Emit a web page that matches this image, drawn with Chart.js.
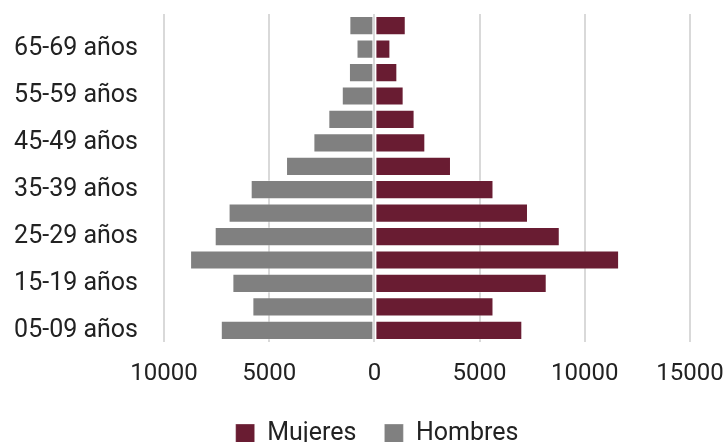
<!DOCTYPE html>
<html>
<head>
<meta charset="utf-8">
<script src="https://cdn.jsdelivr.net/npm/chart.js@4"></script>
<style>
  html, body { margin: 0; padding: 0; background: #fff; }
  #wrap { width: 725px; height: 442px; }
</style>
</head>
<body>
<div id="wrap"><canvas id="pyramid"></canvas></div>
<script>
// age groups, top to bottom as drawn
const ageGroups = ['70-74 años', '65-69 años', '60-64 años', '55-59 años', '50-54 años', '45-49 años',
    '40-44 años', '35-39 años', '30-34 años', '25-29 años', '20-24 años', '15-19 años',
    '10-14 años', '05-09 años'];
const mujeres = [1490, 760, 1090, 1390, 1910, 2420, 3640, 5660, 7300, 8810, 11630, 8190, 5660, 7030];
const hombres = [1190, 850, 1210, 1550, 2190, 2900, 4200, 5880, 6930, 7590, 8760, 6750, 5800, 7300];
const xTicks = [-10000, -5000, 0, 5000, 10000, 15000];

const tickFont = { family: 'Roboto, "Liberation Sans", sans-serif', size: 24 };
const labelFont = { family: 'Roboto, "Liberation Sans", sans-serif', size: 25 };

// drop the extra label padding chart.js adds around the plot
function noPadding(scale) {
    scale.paddingTop = 0;
    scale.paddingBottom = 0;
    scale.paddingLeft = 0;
    scale.paddingRight = 0;
}

// nudge the legend to the right, like the original
const legendShift = {
    id: 'legendShift',
    afterLayout(chart) {
        chart.legend.left += 32;
        chart.legend.right += 32;
    }
};

const ctx = document.getElementById('pyramid').getContext('2d');
const chart = new Chart(ctx, {
    type: 'bar',
    data: {
        labels: ageGroups,
        datasets: [{
            label: 'Mujeres',
            data: mujeres,
            backgroundColor: '#691c32',
            borderColor: 'rgba(255,255,255,0.3)',
            borderWidth: 1,
            borderSkipped: false,
            barPercentage: 0.82,
            categoryPercentage: 1
        }, {
            label: 'Hombres',
            data: hombres.map(v => -v),
            backgroundColor: '#808080',
            borderColor: 'rgba(255,255,255,0.3)',
            borderWidth: 1,
            borderSkipped: false,
            barPercentage: 0.82,
            categoryPercentage: 1
        }]
    },
    options: {
        indexAxis: 'y',
        responsive: true,
        maintainAspectRatio: false,
        animation: false,
        layout: { padding: { top: 14, right: 35, left: 0, bottom: -14 } },
        scales: {
            x: {
                stacked: true,
                min: xTicks[0],
                max: xTicks[xTicks.length - 1],
                afterBuildTicks: scale => { scale.ticks = xTicks.map(v => ({ value: v })); },
                afterFit: scale => { noPadding(scale); scale.height = 51; },
                border: { display: false },
                grid: { color: '#d9d9d9', lineWidth: 2, drawTicks: false },
                ticks: {
                    color: '#222',
                    font: tickFont,
                    padding: 18,
                    callback: v => Math.abs(v)
                }
            },
            y: {
                stacked: true,
                afterFit: scale => { noPadding(scale); scale.width = 164; },
                border: { display: false },
                grid: { display: false, drawTicks: false },
                ticks: {
                    color: '#222',
                    font: labelFont,
                    padding: 26,
                    autoSkip: false,
                    callback: function (v, i) { return i % 2 === 1 ? this.getLabelForValue(v) : ''; }
                }
            }
        },
        plugins: {
            legend: {
                position: 'bottom',
                labels: {
                    color: '#222',
                    font: labelFont,
                    boxWidth: 19,
                    boxHeight: 19,
                    padding: 28
                }
            },
            tooltip: { enabled: false }
        }
    },
    plugins: [legendShift]
});
</script>
</body>
</html>
